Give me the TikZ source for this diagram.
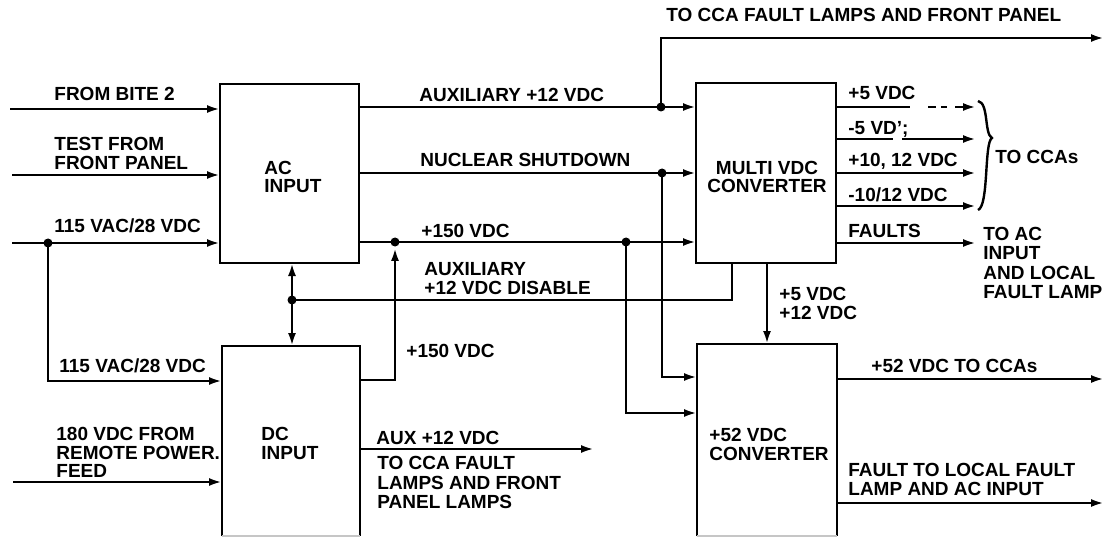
\documentclass[tikz,border=0pt]{standalone}
\usepackage{fontspec}
\setmainfont{Liberation Sans}
\usetikzlibrary{arrows.meta}
\begin{document}
\begin{tikzpicture}[x=1pt,y=-1pt,
  line width=2.8pt,
  arr/.style={-{Latex[length=13pt,width=8pt]}},
  dbl/.style={{Latex[length=13pt,width=8pt]}-{Latex[length=13pt,width=8pt]}},
  dot/.style={circle,fill,inner sep=0pt,minimum size=9pt},
  box/.style={rectangle,inner sep=0pt,outer sep=0pt},
  lbl/.style={inner sep=0pt,anchor=base west,font=\bfseries\fontsize{19}{19}\selectfont},
  mlbl/.style={inner sep=0pt,anchor=north west,align=left,font=\bfseries\fontsize{19}{19}\selectfont},
  bottomedge/.style={gray!45,line width=1.5pt},
]
\useasboundingbox (0,0) rectangle (1107,537);

% boxes
\node[box,minimum width=139pt,minimum height=179pt] (ac) at (289.5,173.5) {};
\node[box,minimum width=138pt,minimum height=190pt] (dc) at (291,441) {};
\node[box,minimum width=140pt,minimum height=180pt] (mv) at (766,173) {};
\node[box,minimum width=140pt,minimum height=192pt] (c52) at (767,440) {};
\draw (ac.south west) rectangle (ac.north east);
\draw (mv.south west) rectangle (mv.north east);
\draw (dc.south west) -- (dc.north west) -- (dc.north east) -- (dc.south east);
\draw[bottomedge] (dc.south west) -- (dc.south east);
\draw (c52.south west) -- (c52.north west) -- (c52.north east) -- (c52.south east);
\draw[bottomedge] (c52.south west) -- (c52.south east);

% box texts
\node[mlbl,font=\bfseries\fontsize{19}{17.5}\selectfont] (actxt) at (263,160) {AC\\INPUT};
\node[mlbl] (dctxt) at (260,426) {DC\\INPUT};
\node[mlbl,anchor=north,align=center,font=\bfseries\fontsize{19}{17.5}\selectfont] (mvtxt) at (767,160) {MULTI VDC\\CONVERTER};
\node[mlbl] (c52txt) at (708,427) {+52 VDC\\CONVERTER};

% inputs to AC input
\coordinate (i1) at (10,109);
\coordinate (i2) at (12,175);
\coordinate (i3) at (12,243);
\coordinate (i4) at (13,482);
\draw[arr] (i1) -- (i1 -| ac.west);
\draw[arr] (i2) -- (i2 -| ac.west);
\draw[arr] (i3) -- (i3 -| ac.west);
\node[dot] (d1) at (48,243) {};
\coordinate (k1) at (48,381);
\draw[arr] (d1.center) -- (k1) -- (k1 -| dc.west);
\draw[arr] (i4) -- (i4 -| dc.west);

\node[lbl] (l1) at (53,101) {FROM BITE 2};
\node[mlbl] (l2) at (53,136) {TEST FROM\\FRONT PANEL};
\node[lbl] (l3) at (53,233) {115 VAC/28 VDC};
\node[lbl] (l4) at (58,372) {115 VAC/28 VDC};
\node[mlbl,font=\bfseries\fontsize{19}{18.5}\selectfont] (l5) at (55,426) {180 VDC FROM\\REMOTE POWER.\\FEED};

% AC input outputs
\coordinate (ya) at (0,107);
\coordinate (yn) at (0,173);
\coordinate (yp) at (0,242);
\draw[arr] (ya -| ac.east) -- (ya -| mv.west);
\draw[arr] (yn -| ac.east) -- (yn -| mv.west);
\draw[arr] (yp -| ac.east) -- (yp -| mv.west);
\node[dot] (d2) at (661,107) {};
\coordinate (t1) at (661,38);
\coordinate (t2) at (1104,38);
\draw[arr] (d2.center) -- (t1) -- (t2);
\node[dot] (d3) at (662,173) {};
\coordinate (n1) at (662,377);
\draw[arr] (d3.center) -- (n1) -- (n1 -| c52.west);
\node[dot] (d4) at (395,242) {};
\node[dot] (d5) at (626,242) {};
\coordinate (p1) at (626,413);
\draw[arr] (d5.center) -- (p1) -- (p1 -| c52.west);
\coordinate (q1) at (395,380);
\draw[arr] (q1 -| dc.east) -- (q1) -- (d4.south);

\node[lbl] (l6) at (418,102) {AUXILIARY +12 VDC};
\node[lbl] (l7) at (419,167) {NUCLEAR SHUTDOWN};
\node[lbl] (l8) at (420,237) {+150 VDC};
\node[lbl] (l9) at (405,357) {+150 VDC};
\node[lbl] (l10) at (665,22) {TO CCA FAULT LAMPS AND FRONT PANEL};

% bidirectional AC/DC and disable
\coordinate (b1) at (292,0);
\draw[dbl] (b1 |- ac.south) -- (b1 |- dc.north);
\node[dot] (d6) at (292,300) {};
\coordinate (e1) at (732,300);
\draw (d6.center) -- (e1) -- (e1 |- mv.south);
\node[mlbl] (l11) at (423,261) {AUXILIARY\\+12 VDC DISABLE};

% multi VDC to +52 converter
\coordinate (m1) at (767,0);
\draw[arr] (m1 |- mv.south) -- (m1 |- c52.north);
\node[mlbl] (l12) at (778,286) {+5 VDC\\+12 VDC};

% DC input output
\coordinate (s1) at (594,449);
\draw[arr] (s1 -| dc.east) -- (s1);
\node[lbl] (l13) at (375,444) {AUX +12 VDC};
\node[mlbl,font=\bfseries\fontsize{19}{19.5}\selectfont] (l14) at (376,455) {TO CCA FAULT\\LAMPS AND FRONT\\PANEL LAMPS};

% multi VDC outputs
\coordinate (o1) at (910,107);
\coordinate (o1a) at (928,107);
\coordinate (o1b) at (936,107);
\coordinate (o1c) at (941,107);
\coordinate (o1d) at (947,107);
\coordinate (o1e) at (955,107);
\coordinate (o1f) at (976,107);
\draw (o1 -| mv.east) -- (o1);
\draw (o1a) -- (o1b);
\draw (o1c) -- (o1d);
\draw[arr] (o1e) -- (o1f);
\coordinate (o2a) at (893,139);
\coordinate (o2b) at (902,139);
\coordinate (o2) at (976,139);
\draw (o2a -| mv.east) -- (o2a);
\draw[arr] (o2b) -- (o2);
\coordinate (o3) at (976,173);
\draw[arr] (o3 -| mv.east) -- (o3);
\coordinate (o4) at (976,206);
\draw[arr] (o4 -| mv.east) -- (o4);
\coordinate (o5) at (976,243);
\draw[arr] (o5 -| mv.east) -- (o5);

\node[lbl] (l15) at (847,100) {+5 VDC};
\node[lbl] (l16) at (847,135) {-5 VD';};
\node[lbl] (l17) at (847,167) {+10, 12 VDC};
\node[lbl] (l18) at (847,202) {-10/12 VDC};
\node[lbl] (l19) at (847,237) {FAULTS};

% brace
\draw[line width=2.4pt] (978,101) .. controls (989,103) and (984,134) .. (992,138)
  .. controls (984,142) and (989,206) .. (978,210);
\node[lbl] (l20) at (994,164) {TO CCAs};
\node[mlbl,font=\bfseries\fontsize{19}{19.3}\selectfont] (l21) at (982,226) {TO AC\\INPUT\\AND LOCAL\\FAULT LAMP};

% +52 converter outputs
\coordinate (r1) at (1104,379);
\draw[arr] (r1 -| c52.east) -- (r1);
\coordinate (r2) at (1104,503);
\draw[arr] (r2 -| c52.east) -- (r2);
\node[lbl] (l22) at (870,372) {+52 VDC TO CCAs};
\node[mlbl] (l23) at (847,462) {FAULT TO LOCAL FAULT\\LAMP AND AC INPUT};
\end{tikzpicture}
\end{document}
